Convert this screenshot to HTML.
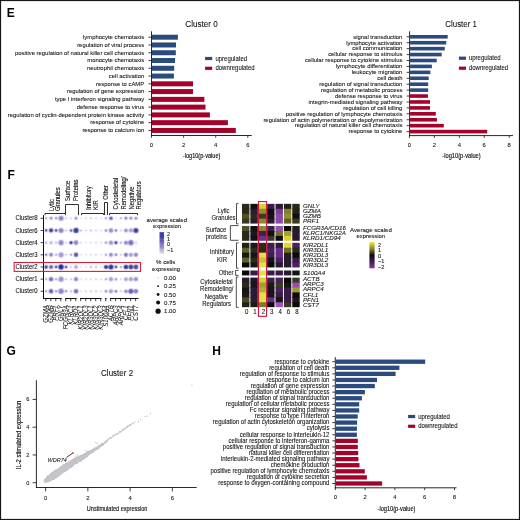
<!DOCTYPE html>
<html><head><meta charset="utf-8"><style>
html,body{margin:0;padding:0;background:#fff;}
svg{display:block;}
#w{width:520px;height:520px;overflow:hidden;will-change:transform;}
text{font-family:"Liberation Sans",sans-serif;}
</style></head><body>
<div id="w"><svg width="520" height="520" viewBox="0 0 520 520">
<g>
<rect x="0" y="0" width="520" height="520" fill="#fff"/>
<text transform="translate(6.70,17.00)" font-size="12" font-weight="bold" fill="#000">E</text>
<text transform="translate(7.40,179.00)" font-size="12" font-weight="bold" fill="#000">F</text>
<text transform="translate(6.50,355.30)" font-size="12" font-weight="bold" fill="#000">G</text>
<text transform="translate(212.30,355.10)" font-size="12" font-weight="bold" fill="#000">H</text>
<line x1="151.50" y1="31.30" x2="151.50" y2="135.90" stroke="#111" stroke-width="0.9"/>
<line x1="151.10" y1="135.50" x2="251.70" y2="135.50" stroke="#111" stroke-width="0.9"/>
<line x1="151.50" y1="135.50" x2="151.50" y2="137.80" stroke="#111" stroke-width="0.8"/>
<text transform="translate(151.50,147.20) scale(0.9433962264150942,1)" font-size="6.254" text-anchor="middle" fill="#111" stroke="#111" stroke-width="0.08">0</text>
<line x1="183.60" y1="135.50" x2="183.60" y2="137.80" stroke="#111" stroke-width="0.8"/>
<text transform="translate(183.60,147.20) scale(0.9433962264150942,1)" font-size="6.254" text-anchor="middle" fill="#111" stroke="#111" stroke-width="0.08">2</text>
<line x1="215.70" y1="135.50" x2="215.70" y2="137.80" stroke="#111" stroke-width="0.8"/>
<text transform="translate(215.70,147.20) scale(0.9433962264150942,1)" font-size="6.254" text-anchor="middle" fill="#111" stroke="#111" stroke-width="0.08">4</text>
<line x1="247.80" y1="135.50" x2="247.80" y2="137.80" stroke="#111" stroke-width="0.8"/>
<text transform="translate(247.80,147.20) scale(0.9433962264150942,1)" font-size="6.254" text-anchor="middle" fill="#111" stroke="#111" stroke-width="0.08">6</text>
<rect x="151.95" y="34.70" width="25.95" height="5.00" fill="#2b4a7e"/>
<line x1="148.50" y1="37.20" x2="151.50" y2="37.20" stroke="#111" stroke-width="0.8"/>
<text transform="translate(144.20,39.00) scale(0.9433962264150942,1)" font-size="6.254" text-anchor="end" fill="#111" stroke="#111" stroke-width="0.08">lymphocyte chemotaxis</text>
<rect x="151.95" y="42.47" width="24.05" height="5.00" fill="#2b4a7e"/>
<line x1="148.50" y1="44.97" x2="151.50" y2="44.97" stroke="#111" stroke-width="0.8"/>
<text transform="translate(144.20,46.77) scale(0.9433962264150942,1)" font-size="6.254" text-anchor="end" fill="#111" stroke="#111" stroke-width="0.08">regulation of viral process</text>
<rect x="151.95" y="50.24" width="23.85" height="5.00" fill="#2b4a7e"/>
<line x1="148.50" y1="52.74" x2="151.50" y2="52.74" stroke="#111" stroke-width="0.8"/>
<text transform="translate(144.20,54.54) scale(0.9433962264150942,1)" font-size="6.254" text-anchor="end" fill="#111" stroke="#111" stroke-width="0.08">positive regulation of natural killer cell chemotaxis</text>
<rect x="151.95" y="58.01" width="23.05" height="5.00" fill="#2b4a7e"/>
<line x1="148.50" y1="60.51" x2="151.50" y2="60.51" stroke="#111" stroke-width="0.8"/>
<text transform="translate(144.20,62.31) scale(0.9433962264150942,1)" font-size="6.254" text-anchor="end" fill="#111" stroke="#111" stroke-width="0.08">monocyte chemotaxis</text>
<rect x="151.95" y="65.78" width="22.25" height="5.00" fill="#2b4a7e"/>
<line x1="148.50" y1="68.28" x2="151.50" y2="68.28" stroke="#111" stroke-width="0.8"/>
<text transform="translate(144.20,70.08) scale(0.9433962264150942,1)" font-size="6.254" text-anchor="end" fill="#111" stroke="#111" stroke-width="0.08">neutrophil chemotaxis</text>
<rect x="151.95" y="73.55" width="21.95" height="5.00" fill="#2b4a7e"/>
<line x1="148.50" y1="76.05" x2="151.50" y2="76.05" stroke="#111" stroke-width="0.8"/>
<text transform="translate(144.20,77.85) scale(0.9433962264150942,1)" font-size="6.254" text-anchor="end" fill="#111" stroke="#111" stroke-width="0.08">cell activation</text>
<rect x="151.95" y="81.32" width="41.05" height="5.00" fill="#a3022b"/>
<line x1="148.50" y1="83.82" x2="151.50" y2="83.82" stroke="#111" stroke-width="0.8"/>
<text transform="translate(144.20,85.62) scale(0.9433962264150942,1)" font-size="6.254" text-anchor="end" fill="#111" stroke="#111" stroke-width="0.08">response to cAMP</text>
<rect x="151.95" y="89.09" width="41.05" height="5.00" fill="#a3022b"/>
<line x1="148.50" y1="91.59" x2="151.50" y2="91.59" stroke="#111" stroke-width="0.8"/>
<text transform="translate(144.20,93.39) scale(0.9433962264150942,1)" font-size="6.254" text-anchor="end" fill="#111" stroke="#111" stroke-width="0.08">regulation of gene expression</text>
<rect x="151.95" y="96.86" width="52.45" height="5.00" fill="#a3022b"/>
<line x1="148.50" y1="99.36" x2="151.50" y2="99.36" stroke="#111" stroke-width="0.8"/>
<text transform="translate(144.20,101.16) scale(0.9433962264150942,1)" font-size="6.254" text-anchor="end" fill="#111" stroke="#111" stroke-width="0.08">type I interferon signaling pathway</text>
<rect x="151.95" y="104.63" width="53.55" height="5.00" fill="#a3022b"/>
<line x1="148.50" y1="107.13" x2="151.50" y2="107.13" stroke="#111" stroke-width="0.8"/>
<text transform="translate(144.20,108.93) scale(0.9433962264150942,1)" font-size="6.254" text-anchor="end" fill="#111" stroke="#111" stroke-width="0.08">defense response to virus</text>
<rect x="151.95" y="112.40" width="57.95" height="5.00" fill="#a3022b"/>
<line x1="148.50" y1="114.90" x2="151.50" y2="114.90" stroke="#111" stroke-width="0.8"/>
<text transform="translate(144.20,116.70) scale(0.9433962264150942,1)" font-size="6.254" text-anchor="end" fill="#111" stroke="#111" stroke-width="0.08">regulation of cyclin-dependent protein kinase activity</text>
<rect x="151.95" y="120.17" width="75.95" height="5.00" fill="#a3022b"/>
<line x1="148.50" y1="122.67" x2="151.50" y2="122.67" stroke="#111" stroke-width="0.8"/>
<text transform="translate(144.20,124.47) scale(0.9433962264150942,1)" font-size="6.254" text-anchor="end" fill="#111" stroke="#111" stroke-width="0.08">response of cytokine</text>
<rect x="151.95" y="127.94" width="83.85" height="5.00" fill="#a3022b"/>
<line x1="148.50" y1="130.44" x2="151.50" y2="130.44" stroke="#111" stroke-width="0.8"/>
<text transform="translate(144.20,132.24) scale(0.9433962264150942,1)" font-size="6.254" text-anchor="end" fill="#111" stroke="#111" stroke-width="0.08">response to calcium ion</text>
<text transform="translate(201.50,26.60)" font-size="9.2" text-anchor="middle" textLength="32.3" lengthAdjust="spacingAndGlyphs" fill="#111" stroke="#111" stroke-width="0.08">Cluster 0</text>
<text transform="translate(201.60,157.90)" font-size="6.6" text-anchor="middle" textLength="37.5" lengthAdjust="spacingAndGlyphs" fill="#111" stroke="#111" stroke-width="0.15">-log10(p-value)</text>
<rect x="205.10" y="56.90" width="7.10" height="3.20" fill="#2b4a7e"/>
<rect x="205.10" y="66.70" width="7.10" height="3.20" fill="#a3022b"/>
<text transform="translate(215.40,60.50) scale(0.9433962264150942,1)" font-size="6.36" fill="#111" stroke="#111" stroke-width="0.08">upregulated</text>
<text transform="translate(215.40,70.30) scale(0.9433962264150942,1)" font-size="6.36" fill="#111" stroke="#111" stroke-width="0.08">downregulated</text>
<line x1="409.60" y1="31.30" x2="409.60" y2="136.00" stroke="#111" stroke-width="0.9"/>
<line x1="409.20" y1="135.60" x2="513.00" y2="135.60" stroke="#111" stroke-width="0.9"/>
<line x1="409.40" y1="135.60" x2="409.40" y2="137.90" stroke="#111" stroke-width="0.8"/>
<text transform="translate(409.40,147.20) scale(0.9433962264150942,1)" font-size="6.254" text-anchor="middle" fill="#111" stroke="#111" stroke-width="0.08">0</text>
<line x1="434.35" y1="135.60" x2="434.35" y2="137.90" stroke="#111" stroke-width="0.8"/>
<text transform="translate(434.35,147.20) scale(0.9433962264150942,1)" font-size="6.254" text-anchor="middle" fill="#111" stroke="#111" stroke-width="0.08">2</text>
<line x1="459.30" y1="135.60" x2="459.30" y2="137.90" stroke="#111" stroke-width="0.8"/>
<text transform="translate(459.30,147.20) scale(0.9433962264150942,1)" font-size="6.254" text-anchor="middle" fill="#111" stroke="#111" stroke-width="0.08">4</text>
<line x1="484.25" y1="135.60" x2="484.25" y2="137.90" stroke="#111" stroke-width="0.8"/>
<text transform="translate(484.25,147.20) scale(0.9433962264150942,1)" font-size="6.254" text-anchor="middle" fill="#111" stroke="#111" stroke-width="0.08">6</text>
<line x1="509.20" y1="135.60" x2="509.20" y2="137.90" stroke="#111" stroke-width="0.8"/>
<text transform="translate(509.20,147.20) scale(0.9433962264150942,1)" font-size="6.254" text-anchor="middle" fill="#111" stroke="#111" stroke-width="0.08">8</text>
<rect x="410.05" y="35.00" width="37.65" height="3.60" fill="#2b4a7e"/>
<line x1="406.60" y1="36.80" x2="409.60" y2="36.80" stroke="#111" stroke-width="0.8"/>
<text transform="translate(402.40,38.60) scale(0.9433962264150942,1)" font-size="6.254" text-anchor="end" fill="#111" stroke="#111" stroke-width="0.08">signal transduction</text>
<rect x="410.05" y="40.92" width="36.15" height="3.60" fill="#2b4a7e"/>
<line x1="406.60" y1="42.72" x2="409.60" y2="42.72" stroke="#111" stroke-width="0.8"/>
<text transform="translate(402.40,44.52) scale(0.9433962264150942,1)" font-size="6.254" text-anchor="end" fill="#111" stroke="#111" stroke-width="0.08">lymphocyte activation</text>
<rect x="410.05" y="46.85" width="34.75" height="3.60" fill="#2b4a7e"/>
<line x1="406.60" y1="48.65" x2="409.60" y2="48.65" stroke="#111" stroke-width="0.8"/>
<text transform="translate(402.40,50.45) scale(0.9433962264150942,1)" font-size="6.254" text-anchor="end" fill="#111" stroke="#111" stroke-width="0.08">cell communication</text>
<rect x="410.05" y="52.77" width="31.65" height="3.60" fill="#2b4a7e"/>
<line x1="406.60" y1="54.57" x2="409.60" y2="54.57" stroke="#111" stroke-width="0.8"/>
<text transform="translate(402.40,56.37) scale(0.9433962264150942,1)" font-size="6.254" text-anchor="end" fill="#111" stroke="#111" stroke-width="0.08">cellular response to stimulus</text>
<rect x="410.05" y="58.70" width="26.65" height="3.60" fill="#2b4a7e"/>
<line x1="406.60" y1="60.50" x2="409.60" y2="60.50" stroke="#111" stroke-width="0.8"/>
<text transform="translate(402.40,62.30) scale(0.9433962264150942,1)" font-size="6.254" text-anchor="end" fill="#111" stroke="#111" stroke-width="0.08">cellular response to cytokine stimulus</text>
<rect x="410.05" y="64.62" width="21.85" height="3.60" fill="#2b4a7e"/>
<line x1="406.60" y1="66.42" x2="409.60" y2="66.42" stroke="#111" stroke-width="0.8"/>
<text transform="translate(402.40,68.22) scale(0.9433962264150942,1)" font-size="6.254" text-anchor="end" fill="#111" stroke="#111" stroke-width="0.08">lymphocyte differentiation</text>
<rect x="410.05" y="70.55" width="20.35" height="3.60" fill="#2b4a7e"/>
<line x1="406.60" y1="72.35" x2="409.60" y2="72.35" stroke="#111" stroke-width="0.8"/>
<text transform="translate(402.40,74.15) scale(0.9433962264150942,1)" font-size="6.254" text-anchor="end" fill="#111" stroke="#111" stroke-width="0.08">leukocyte migration</text>
<rect x="410.05" y="76.47" width="18.65" height="3.60" fill="#2b4a7e"/>
<line x1="406.60" y1="78.27" x2="409.60" y2="78.27" stroke="#111" stroke-width="0.8"/>
<text transform="translate(402.40,80.07) scale(0.9433962264150942,1)" font-size="6.254" text-anchor="end" fill="#111" stroke="#111" stroke-width="0.08">cell death</text>
<rect x="410.05" y="82.40" width="18.15" height="3.60" fill="#2b4a7e"/>
<line x1="406.60" y1="84.20" x2="409.60" y2="84.20" stroke="#111" stroke-width="0.8"/>
<text transform="translate(402.40,86.00) scale(0.9433962264150942,1)" font-size="6.254" text-anchor="end" fill="#111" stroke="#111" stroke-width="0.08">regulation of signal transduction</text>
<rect x="410.05" y="88.32" width="18.15" height="3.60" fill="#2b4a7e"/>
<line x1="406.60" y1="90.12" x2="409.60" y2="90.12" stroke="#111" stroke-width="0.8"/>
<text transform="translate(402.40,91.92) scale(0.9433962264150942,1)" font-size="6.254" text-anchor="end" fill="#111" stroke="#111" stroke-width="0.08">regulation of metabolic process</text>
<rect x="410.05" y="94.25" width="17.85" height="3.60" fill="#a3022b"/>
<line x1="406.60" y1="96.05" x2="409.60" y2="96.05" stroke="#111" stroke-width="0.8"/>
<text transform="translate(402.40,97.85) scale(0.9433962264150942,1)" font-size="6.254" text-anchor="end" fill="#111" stroke="#111" stroke-width="0.08">defense response to virus</text>
<rect x="410.05" y="100.17" width="19.95" height="3.60" fill="#a3022b"/>
<line x1="406.60" y1="101.97" x2="409.60" y2="101.97" stroke="#111" stroke-width="0.8"/>
<text transform="translate(402.40,103.77) scale(0.9433962264150942,1)" font-size="6.254" text-anchor="end" fill="#111" stroke="#111" stroke-width="0.08">integrin-mediated signaling pathway</text>
<rect x="410.05" y="106.10" width="19.95" height="3.60" fill="#a3022b"/>
<line x1="406.60" y1="107.90" x2="409.60" y2="107.90" stroke="#111" stroke-width="0.8"/>
<text transform="translate(402.40,109.70) scale(0.9433962264150942,1)" font-size="6.254" text-anchor="end" fill="#111" stroke="#111" stroke-width="0.08">regulation of cell killing</text>
<rect x="410.05" y="112.02" width="25.75" height="3.60" fill="#a3022b"/>
<line x1="406.60" y1="113.82" x2="409.60" y2="113.82" stroke="#111" stroke-width="0.8"/>
<text transform="translate(402.40,115.62) scale(0.9433962264150942,1)" font-size="6.254" text-anchor="end" fill="#111" stroke="#111" stroke-width="0.08">positive regulation of lymphocyte chemotaxis</text>
<rect x="410.05" y="117.95" width="26.85" height="3.60" fill="#a3022b"/>
<line x1="406.60" y1="119.75" x2="409.60" y2="119.75" stroke="#111" stroke-width="0.8"/>
<text transform="translate(402.40,121.55) scale(0.9433962264150942,1)" font-size="6.254" text-anchor="end" fill="#111" stroke="#111" stroke-width="0.08">regulation of actin polymerization or depolymerization</text>
<rect x="410.05" y="123.88" width="33.75" height="3.60" fill="#a3022b"/>
<line x1="406.60" y1="125.67" x2="409.60" y2="125.67" stroke="#111" stroke-width="0.8"/>
<text transform="translate(402.40,127.47) scale(0.9433962264150942,1)" font-size="6.254" text-anchor="end" fill="#111" stroke="#111" stroke-width="0.08">regulation of natural killer cell chemotaxis</text>
<rect x="410.05" y="129.80" width="77.15" height="3.60" fill="#a3022b"/>
<line x1="406.60" y1="131.60" x2="409.60" y2="131.60" stroke="#111" stroke-width="0.8"/>
<text transform="translate(402.40,133.40) scale(0.9433962264150942,1)" font-size="6.254" text-anchor="end" fill="#111" stroke="#111" stroke-width="0.08">response to cytokine</text>
<text transform="translate(461.10,26.60)" font-size="9.2" text-anchor="middle" textLength="31.5" lengthAdjust="spacingAndGlyphs" fill="#111" stroke="#111" stroke-width="0.08">Cluster 1</text>
<text transform="translate(461.50,158.20)" font-size="6.6" text-anchor="middle" textLength="38.4" lengthAdjust="spacingAndGlyphs" fill="#111" stroke="#111" stroke-width="0.15">-log10(p-value)</text>
<rect x="458.90" y="56.60" width="7.10" height="3.20" fill="#2b4a7e"/>
<rect x="458.90" y="66.60" width="7.10" height="3.20" fill="#a3022b"/>
<text transform="translate(468.90,60.20) scale(0.9433962264150942,1)" font-size="6.36" fill="#111" stroke="#111" stroke-width="0.08">upregulated</text>
<text transform="translate(468.90,70.20) scale(0.9433962264150942,1)" font-size="6.36" fill="#111" stroke="#111" stroke-width="0.08">downregulated</text>
<line x1="335.30" y1="357.10" x2="335.30" y2="488.20" stroke="#111" stroke-width="0.9"/>
<line x1="334.90" y1="487.80" x2="456.50" y2="487.80" stroke="#111" stroke-width="0.9"/>
<line x1="335.30" y1="487.80" x2="335.30" y2="490.10" stroke="#111" stroke-width="0.8"/>
<text transform="translate(335.30,499.20) scale(0.9433962264150942,1)" font-size="6.254" text-anchor="middle" fill="#111" stroke="#111" stroke-width="0.08">0</text>
<line x1="365.10" y1="487.80" x2="365.10" y2="490.10" stroke="#111" stroke-width="0.8"/>
<text transform="translate(365.10,499.20) scale(0.9433962264150942,1)" font-size="6.254" text-anchor="middle" fill="#111" stroke="#111" stroke-width="0.08">2</text>
<line x1="394.90" y1="487.80" x2="394.90" y2="490.10" stroke="#111" stroke-width="0.8"/>
<text transform="translate(394.90,499.20) scale(0.9433962264150942,1)" font-size="6.254" text-anchor="middle" fill="#111" stroke="#111" stroke-width="0.08">4</text>
<line x1="424.70" y1="487.80" x2="424.70" y2="490.10" stroke="#111" stroke-width="0.8"/>
<text transform="translate(424.70,499.20) scale(0.9433962264150942,1)" font-size="6.254" text-anchor="middle" fill="#111" stroke="#111" stroke-width="0.08">6</text>
<line x1="454.50" y1="487.80" x2="454.50" y2="490.10" stroke="#111" stroke-width="0.8"/>
<text transform="translate(454.50,499.20) scale(0.9433962264150942,1)" font-size="6.254" text-anchor="middle" fill="#111" stroke="#111" stroke-width="0.08">8</text>
<rect x="335.75" y="359.55" width="89.45" height="4.30" fill="#2b4a7e"/>
<line x1="332.30" y1="361.70" x2="335.30" y2="361.70" stroke="#111" stroke-width="0.8"/>
<text transform="translate(329.40,363.50) scale(0.9433962264150942,1)" font-size="6.36" text-anchor="end" fill="#111" stroke="#111" stroke-width="0.08">response to cytokine</text>
<rect x="335.75" y="365.64" width="63.65" height="4.30" fill="#2b4a7e"/>
<line x1="332.30" y1="367.79" x2="335.30" y2="367.79" stroke="#111" stroke-width="0.8"/>
<text transform="translate(329.40,369.59) scale(0.9433962264150942,1)" font-size="6.36" text-anchor="end" fill="#111" stroke="#111" stroke-width="0.08">regulation of cell death</text>
<rect x="335.75" y="371.73" width="59.85" height="4.30" fill="#2b4a7e"/>
<line x1="332.30" y1="373.88" x2="335.30" y2="373.88" stroke="#111" stroke-width="0.8"/>
<text transform="translate(329.40,375.68) scale(0.9433962264150942,1)" font-size="6.36" text-anchor="end" fill="#111" stroke="#111" stroke-width="0.08">regulation of response to stimulus</text>
<rect x="335.75" y="377.82" width="41.25" height="4.30" fill="#2b4a7e"/>
<line x1="332.30" y1="379.97" x2="335.30" y2="379.97" stroke="#111" stroke-width="0.8"/>
<text transform="translate(329.40,381.77) scale(0.9433962264150942,1)" font-size="6.36" text-anchor="end" fill="#111" stroke="#111" stroke-width="0.08">response to calcium ion</text>
<rect x="335.75" y="383.91" width="39.05" height="4.30" fill="#2b4a7e"/>
<line x1="332.30" y1="386.06" x2="335.30" y2="386.06" stroke="#111" stroke-width="0.8"/>
<text transform="translate(329.40,387.86) scale(0.9433962264150942,1)" font-size="6.36" text-anchor="end" fill="#111" stroke="#111" stroke-width="0.08">regulation of gene expression</text>
<rect x="335.75" y="390.00" width="29.15" height="4.30" fill="#2b4a7e"/>
<line x1="332.30" y1="392.15" x2="335.30" y2="392.15" stroke="#111" stroke-width="0.8"/>
<text transform="translate(329.40,393.95) scale(0.9433962264150942,1)" font-size="6.36" text-anchor="end" fill="#111" stroke="#111" stroke-width="0.08">regulation of metabolic process</text>
<rect x="335.75" y="396.09" width="26.15" height="4.30" fill="#2b4a7e"/>
<line x1="332.30" y1="398.24" x2="335.30" y2="398.24" stroke="#111" stroke-width="0.8"/>
<text transform="translate(329.40,400.04) scale(0.9433962264150942,1)" font-size="6.36" text-anchor="end" fill="#111" stroke="#111" stroke-width="0.08">regulation of signal transduction</text>
<rect x="335.75" y="402.18" width="23.45" height="4.30" fill="#2b4a7e"/>
<line x1="332.30" y1="404.33" x2="335.30" y2="404.33" stroke="#111" stroke-width="0.8"/>
<text transform="translate(329.40,406.13) scale(0.9433962264150942,1)" font-size="6.36" text-anchor="end" fill="#111" stroke="#111" stroke-width="0.08">regulation of cellular metabolic process</text>
<rect x="335.75" y="408.27" width="23.45" height="4.30" fill="#2b4a7e"/>
<line x1="332.30" y1="410.42" x2="335.30" y2="410.42" stroke="#111" stroke-width="0.8"/>
<text transform="translate(329.40,412.22) scale(0.9433962264150942,1)" font-size="6.36" text-anchor="end" fill="#111" stroke="#111" stroke-width="0.08">Fc receptor signaling pathway</text>
<rect x="335.75" y="414.36" width="21.95" height="4.30" fill="#2b4a7e"/>
<line x1="332.30" y1="416.51" x2="335.30" y2="416.51" stroke="#111" stroke-width="0.8"/>
<text transform="translate(329.40,418.31) scale(0.9433962264150942,1)" font-size="6.36" text-anchor="end" fill="#111" stroke="#111" stroke-width="0.08">response to type I interferon</text>
<rect x="335.75" y="420.45" width="21.35" height="4.30" fill="#2b4a7e"/>
<line x1="332.30" y1="422.60" x2="335.30" y2="422.60" stroke="#111" stroke-width="0.8"/>
<text transform="translate(329.40,424.40) scale(0.9433962264150942,1)" font-size="6.36" text-anchor="end" fill="#111" stroke="#111" stroke-width="0.08">regulation of actin cytoskeleton organization</text>
<rect x="335.75" y="426.54" width="21.15" height="4.30" fill="#2b4a7e"/>
<line x1="332.30" y1="428.69" x2="335.30" y2="428.69" stroke="#111" stroke-width="0.8"/>
<text transform="translate(329.40,430.49) scale(0.9433962264150942,1)" font-size="6.36" text-anchor="end" fill="#111" stroke="#111" stroke-width="0.08">cytolysis</text>
<rect x="335.75" y="432.63" width="21.15" height="4.30" fill="#2b4a7e"/>
<line x1="332.30" y1="434.78" x2="335.30" y2="434.78" stroke="#111" stroke-width="0.8"/>
<text transform="translate(329.40,436.58) scale(0.9433962264150942,1)" font-size="6.36" text-anchor="end" fill="#111" stroke="#111" stroke-width="0.08">cellular response to interleukin-12</text>
<rect x="335.75" y="438.72" width="22.05" height="4.30" fill="#a3022b"/>
<line x1="332.30" y1="440.87" x2="335.30" y2="440.87" stroke="#111" stroke-width="0.8"/>
<text transform="translate(329.40,442.67) scale(0.9433962264150942,1)" font-size="6.36" text-anchor="end" fill="#111" stroke="#111" stroke-width="0.08">cellular response to interferon-gamma</text>
<rect x="335.75" y="444.81" width="22.05" height="4.30" fill="#a3022b"/>
<line x1="332.30" y1="446.96" x2="335.30" y2="446.96" stroke="#111" stroke-width="0.8"/>
<text transform="translate(329.40,448.76) scale(0.9433962264150942,1)" font-size="6.36" text-anchor="end" fill="#111" stroke="#111" stroke-width="0.08">positive regulation of signal transduction</text>
<rect x="335.75" y="450.90" width="22.45" height="4.30" fill="#a3022b"/>
<line x1="332.30" y1="453.05" x2="335.30" y2="453.05" stroke="#111" stroke-width="0.8"/>
<text transform="translate(329.40,454.85) scale(0.9433962264150942,1)" font-size="6.36" text-anchor="end" fill="#111" stroke="#111" stroke-width="0.08">natural killer cell differentiation</text>
<rect x="335.75" y="456.99" width="22.65" height="4.30" fill="#a3022b"/>
<line x1="332.30" y1="459.14" x2="335.30" y2="459.14" stroke="#111" stroke-width="0.8"/>
<text transform="translate(329.40,460.94) scale(0.9433962264150942,1)" font-size="6.36" text-anchor="end" fill="#111" stroke="#111" stroke-width="0.08">interleukin-2-mediated signaling pathway</text>
<rect x="335.75" y="463.08" width="23.75" height="4.30" fill="#a3022b"/>
<line x1="332.30" y1="465.23" x2="335.30" y2="465.23" stroke="#111" stroke-width="0.8"/>
<text transform="translate(329.40,467.03) scale(0.9433962264150942,1)" font-size="6.36" text-anchor="end" fill="#111" stroke="#111" stroke-width="0.08">chemokine production</text>
<rect x="335.75" y="469.17" width="29.05" height="4.30" fill="#a3022b"/>
<line x1="332.30" y1="471.32" x2="335.30" y2="471.32" stroke="#111" stroke-width="0.8"/>
<text transform="translate(329.40,473.12) scale(0.9433962264150942,1)" font-size="6.36" text-anchor="end" fill="#111" stroke="#111" stroke-width="0.08">positive regulation of lymphocyte chemotaxis</text>
<rect x="335.75" y="475.26" width="31.15" height="4.30" fill="#a3022b"/>
<line x1="332.30" y1="477.41" x2="335.30" y2="477.41" stroke="#111" stroke-width="0.8"/>
<text transform="translate(329.40,479.21) scale(0.9433962264150942,1)" font-size="6.36" text-anchor="end" fill="#111" stroke="#111" stroke-width="0.08">regulation of cytokine secretion</text>
<rect x="335.75" y="481.35" width="46.35" height="4.30" fill="#a3022b"/>
<line x1="332.30" y1="483.50" x2="335.30" y2="483.50" stroke="#111" stroke-width="0.8"/>
<text transform="translate(329.40,485.30) scale(0.9433962264150942,1)" font-size="6.36" text-anchor="end" fill="#111" stroke="#111" stroke-width="0.08">response to oxygen-containing compound</text>
<text transform="translate(396.50,511.20)" font-size="6.6" text-anchor="middle" textLength="38" lengthAdjust="spacingAndGlyphs" fill="#111" stroke="#111" stroke-width="0.15">-log10(p-value)</text>
<rect x="408.10" y="414.90" width="7.10" height="3.20" fill="#2b4a7e"/>
<rect x="408.10" y="424.70" width="7.10" height="3.20" fill="#a3022b"/>
<text transform="translate(418.20,418.50) scale(0.9433962264150942,1)" font-size="6.36" fill="#111" stroke="#111" stroke-width="0.08">upregulated</text>
<text transform="translate(418.20,428.30) scale(0.9433962264150942,1)" font-size="6.36" fill="#111" stroke="#111" stroke-width="0.08">downregulated</text>
<line x1="36.40" y1="380.30" x2="36.40" y2="487.90" stroke="#111" stroke-width="0.9"/>
<line x1="36.00" y1="487.50" x2="196.70" y2="487.50" stroke="#111" stroke-width="0.9"/>
<line x1="32.60" y1="482.70" x2="36.40" y2="482.70" stroke="#111" stroke-width="0.8"/>
<text transform="translate(27.70,484.70) scale(0.9433962264150942,1)" font-size="5.936" text-anchor="middle" fill="#111" stroke="#111" stroke-width="0.08">0</text>
<line x1="32.60" y1="454.95" x2="36.40" y2="454.95" stroke="#111" stroke-width="0.8"/>
<text transform="translate(27.70,456.95) scale(0.9433962264150942,1)" font-size="5.936" text-anchor="middle" fill="#111" stroke="#111" stroke-width="0.08">2</text>
<line x1="32.60" y1="427.20" x2="36.40" y2="427.20" stroke="#111" stroke-width="0.8"/>
<text transform="translate(27.70,429.20) scale(0.9433962264150942,1)" font-size="5.936" text-anchor="middle" fill="#111" stroke="#111" stroke-width="0.08">4</text>
<line x1="32.60" y1="399.45" x2="36.40" y2="399.45" stroke="#111" stroke-width="0.8"/>
<text transform="translate(27.70,401.45) scale(0.9433962264150942,1)" font-size="5.936" text-anchor="middle" fill="#111" stroke="#111" stroke-width="0.08">6</text>
<line x1="45.60" y1="487.50" x2="45.60" y2="491.40" stroke="#111" stroke-width="0.8"/>
<text transform="translate(45.60,500.30) scale(0.9433962264150942,1)" font-size="6.254" text-anchor="middle" fill="#111" stroke="#111" stroke-width="0.08">0</text>
<line x1="87.85" y1="487.50" x2="87.85" y2="491.40" stroke="#111" stroke-width="0.8"/>
<text transform="translate(87.85,500.30) scale(0.9433962264150942,1)" font-size="6.254" text-anchor="middle" fill="#111" stroke="#111" stroke-width="0.08">2</text>
<line x1="130.10" y1="487.50" x2="130.10" y2="491.40" stroke="#111" stroke-width="0.8"/>
<text transform="translate(130.10,500.30) scale(0.9433962264150942,1)" font-size="6.254" text-anchor="middle" fill="#111" stroke="#111" stroke-width="0.08">4</text>
<line x1="172.35" y1="487.50" x2="172.35" y2="491.40" stroke="#111" stroke-width="0.8"/>
<text transform="translate(172.35,500.30) scale(0.9433962264150942,1)" font-size="6.254" text-anchor="middle" fill="#111" stroke="#111" stroke-width="0.08">6</text>
<text transform="translate(117.10,375.90)" font-size="9.2" text-anchor="middle" textLength="32.0" lengthAdjust="spacingAndGlyphs" fill="#111" stroke="#111" stroke-width="0.08">Cluster 2</text>
<text transform="translate(117.10,511.30)" font-size="7.3" text-anchor="middle" textLength="60.6" lengthAdjust="spacingAndGlyphs" fill="#111" stroke="#111" stroke-width="0.15">Unstimulated expression</text>
<text transform="translate(21.20,435.00) rotate(-90)" font-size="7.3" text-anchor="middle" textLength="68.5" lengthAdjust="spacingAndGlyphs" fill="#111" stroke="#111" stroke-width="0.15">IL-2 stimulated expression</text>
<polygon points="43.6,481.6 44.2,479.4 46.2,477.4 48.5,475.4 51.5,473.1 55.4,470.4 59.2,467.7 63.1,465.0 66.9,462.9 70.8,460.6 75.0,457.9 78.5,456.2 82.7,454.6 90.4,450.2 98.1,446.0 104.0,442.4 108.0,439.9 108.0,441.5 104.0,444.2 98.1,448.7 90.4,454.2 82.7,460.0 78.5,462.5 74.6,464.6 70.8,467.5 66.9,470.3 63.1,473.0 59.2,476.0 55.4,478.4 51.5,480.4 47.7,482.2 44.8,483.0" fill="#c6c4ca" stroke="#c6c4ca" stroke-width="0.2" stroke-linejoin="round"/>
<circle cx="135.1" cy="422.2" r="0.65" fill="#c0bec6"/>
<circle cx="138.5" cy="421.5" r="0.65" fill="#c0bec6"/>
<circle cx="140.5" cy="419.5" r="0.65" fill="#c0bec6"/>
<circle cx="145.2" cy="416.4" r="0.65" fill="#c0bec6"/>
<circle cx="147.2" cy="416.2" r="0.65" fill="#c0bec6"/>
<circle cx="150.3" cy="413.5" r="0.65" fill="#c0bec6"/>
<circle cx="95.8" cy="442.3" r="0.65" fill="#c0bec6"/>
<circle cx="97.3" cy="443.5" r="0.65" fill="#c0bec6"/>
<circle cx="101.5" cy="443.5" r="0.65" fill="#c0bec6"/>
<circle cx="85.0" cy="450.8" r="0.65" fill="#c0bec6"/>
<circle cx="87.3" cy="451.2" r="0.65" fill="#c0bec6"/>
<circle cx="77.3" cy="455.0" r="0.65" fill="#c0bec6"/>
<circle cx="75.4" cy="456.2" r="0.65" fill="#c0bec6"/>
<circle cx="191.9" cy="385.2" r="0.65" fill="#c0bec6"/>
<circle cx="128.0" cy="426.0" r="0.65" fill="#c0bec6"/>
<circle cx="123.0" cy="429.5" r="0.65" fill="#c0bec6"/>
<circle cx="64.1" cy="464.7" r="0.65" fill="#c0bec6"/>
<circle cx="47.0" cy="476.9" r="0.65" fill="#c0bec6"/>
<circle cx="47.6" cy="476.0" r="0.65" fill="#c0bec6"/>
<circle cx="70.9" cy="460.6" r="0.65" fill="#c0bec6"/>
<circle cx="78.2" cy="457.0" r="0.65" fill="#c0bec6"/>
<circle cx="51.7" cy="473.4" r="0.65" fill="#c0bec6"/>
<circle cx="80.1" cy="456.0" r="0.65" fill="#c0bec6"/>
<circle cx="68.6" cy="461.7" r="0.65" fill="#c0bec6"/>
<circle cx="97.2" cy="449.1" r="0.65" fill="#c0bec6"/>
<circle cx="77.5" cy="462.7" r="0.65" fill="#c0bec6"/>
<circle cx="86.3" cy="452.9" r="0.65" fill="#c0bec6"/>
<circle cx="83.6" cy="459.4" r="0.65" fill="#c0bec6"/>
<circle cx="88.2" cy="451.9" r="0.65" fill="#c0bec6"/>
<circle cx="74.8" cy="463.9" r="0.65" fill="#c0bec6"/>
<circle cx="72.9" cy="465.8" r="0.65" fill="#c0bec6"/>
<circle cx="59.4" cy="468.1" r="0.65" fill="#c0bec6"/>
<circle cx="59.1" cy="475.7" r="0.65" fill="#c0bec6"/>
<circle cx="98.3" cy="448.5" r="0.65" fill="#c0bec6"/>
<circle cx="104.8" cy="442.2" r="0.65" fill="#c0bec6"/>
<circle cx="54.2" cy="479.0" r="0.65" fill="#c0bec6"/>
<circle cx="74.3" cy="459.1" r="0.65" fill="#c0bec6"/>
<circle cx="48.8" cy="481.5" r="0.65" fill="#c0bec6"/>
<circle cx="65.7" cy="470.8" r="0.65" fill="#c0bec6"/>
<circle cx="72.3" cy="460.4" r="0.65" fill="#c0bec6"/>
<circle cx="73.4" cy="458.8" r="0.65" fill="#c0bec6"/>
<circle cx="87.5" cy="456.3" r="0.65" fill="#c0bec6"/>
<circle cx="67.9" cy="469.7" r="0.65" fill="#c0bec6"/>
<circle cx="72.6" cy="459.8" r="0.65" fill="#c0bec6"/>
<circle cx="74.6" cy="458.7" r="0.65" fill="#c0bec6"/>
<circle cx="52.0" cy="472.9" r="0.65" fill="#c0bec6"/>
<circle cx="100.8" cy="446.7" r="0.65" fill="#c0bec6"/>
<circle cx="71.8" cy="466.0" r="0.65" fill="#c0bec6"/>
<circle cx="94.8" cy="450.6" r="0.65" fill="#c0bec6"/>
<circle cx="105.2" cy="442.7" r="0.65" fill="#c0bec6"/>
<circle cx="53.4" cy="471.8" r="0.65" fill="#c0bec6"/>
<circle cx="84.8" cy="453.7" r="0.65" fill="#c0bec6"/>
<circle cx="80.5" cy="461.2" r="0.65" fill="#c0bec6"/>
<circle cx="53.0" cy="479.2" r="0.65" fill="#c0bec6"/>
<circle cx="63.8" cy="465.1" r="0.65" fill="#c0bec6"/>
<circle cx="76.0" cy="457.7" r="0.65" fill="#c0bec6"/>
<circle cx="98.0" cy="448.6" r="0.65" fill="#c0bec6"/>
<circle cx="68.4" cy="468.8" r="0.65" fill="#c0bec6"/>
<circle cx="47.9" cy="476.7" r="0.65" fill="#c0bec6"/>
<circle cx="71.3" cy="460.4" r="0.65" fill="#c0bec6"/>
<circle cx="47.3" cy="476.8" r="0.65" fill="#c0bec6"/>
<circle cx="77.3" cy="462.7" r="0.65" fill="#c0bec6"/>
<circle cx="48.4" cy="475.9" r="0.65" fill="#c0bec6"/>
<circle cx="53.2" cy="478.8" r="0.65" fill="#c0bec6"/>
<circle cx="81.3" cy="460.9" r="0.65" fill="#c0bec6"/>
<circle cx="96.6" cy="449.5" r="0.65" fill="#c0bec6"/>
<circle cx="63.3" cy="464.8" r="0.65" fill="#c0bec6"/>
<circle cx="65.2" cy="471.2" r="0.65" fill="#c0bec6"/>
<circle cx="86.9" cy="452.2" r="0.65" fill="#c0bec6"/>
<circle cx="103.0" cy="445.0" r="0.65" fill="#c0bec6"/>
<circle cx="77.7" cy="457.2" r="0.65" fill="#c0bec6"/>
<circle cx="62.5" cy="465.9" r="0.65" fill="#c0bec6"/>
<circle cx="60.2" cy="474.5" r="0.65" fill="#c0bec6"/>
<circle cx="66.1" cy="463.7" r="0.65" fill="#c0bec6"/>
<circle cx="92.3" cy="452.4" r="0.65" fill="#c0bec6"/>
<circle cx="82.0" cy="455.5" r="0.65" fill="#c0bec6"/>
<circle cx="94.7" cy="447.8" r="0.65" fill="#c0bec6"/>
<circle cx="74.6" cy="459.0" r="0.65" fill="#c0bec6"/>
<circle cx="93.0" cy="452.3" r="0.65" fill="#c0bec6"/>
<circle cx="86.9" cy="456.6" r="0.65" fill="#c0bec6"/>
<circle cx="102.1" cy="444.9" r="0.65" fill="#c0bec6"/>
<circle cx="66.6" cy="463.0" r="0.65" fill="#c0bec6"/>
<circle cx="73.1" cy="465.7" r="0.65" fill="#c0bec6"/>
<circle cx="82.7" cy="454.9" r="0.65" fill="#c0bec6"/>
<circle cx="84.5" cy="454.2" r="0.65" fill="#c0bec6"/>
<circle cx="51.4" cy="479.8" r="0.65" fill="#c0bec6"/>
<circle cx="90.5" cy="453.4" r="0.65" fill="#c0bec6"/>
<circle cx="70.9" cy="467.5" r="0.65" fill="#c0bec6"/>
<circle cx="102.7" cy="445.0" r="0.65" fill="#c0bec6"/>
<circle cx="90.1" cy="450.9" r="0.65" fill="#c0bec6"/>
<circle cx="54.5" cy="470.8" r="0.65" fill="#c0bec6"/>
<circle cx="80.6" cy="460.6" r="0.65" fill="#c0bec6"/>
<circle cx="53.1" cy="479.1" r="0.65" fill="#c0bec6"/>
<circle cx="65.7" cy="463.4" r="0.65" fill="#c0bec6"/>
<circle cx="93.6" cy="448.8" r="0.65" fill="#c0bec6"/>
<circle cx="101.9" cy="445.0" r="0.65" fill="#c0bec6"/>
<circle cx="56.1" cy="469.7" r="0.65" fill="#c0bec6"/>
<circle cx="57.2" cy="469.7" r="0.65" fill="#c0bec6"/>
<circle cx="64.2" cy="471.6" r="0.65" fill="#c0bec6"/>
<circle cx="47.8" cy="481.5" r="0.65" fill="#c0bec6"/>
<circle cx="85.1" cy="457.6" r="0.65" fill="#c0bec6"/>
<circle cx="98.4" cy="446.1" r="0.65" fill="#c0bec6"/>
<circle cx="76.5" cy="457.9" r="0.65" fill="#c0bec6"/>
<circle cx="92.1" cy="449.8" r="0.65" fill="#c0bec6"/>
<circle cx="53.3" cy="472.1" r="0.65" fill="#c0bec6"/>
<circle cx="89.0" cy="451.1" r="0.65" fill="#c0bec6"/>
<circle cx="76.1" cy="463.2" r="0.65" fill="#c0bec6"/>
<circle cx="50.6" cy="473.9" r="0.65" fill="#c0bec6"/>
<circle cx="61.2" cy="466.6" r="0.65" fill="#c0bec6"/>
<circle cx="78.8" cy="456.3" r="0.65" fill="#c0bec6"/>
<circle cx="82.0" cy="455.4" r="0.65" fill="#c0bec6"/>
<circle cx="72.0" cy="466.2" r="0.65" fill="#c0bec6"/>
<circle cx="59.4" cy="475.2" r="0.65" fill="#c0bec6"/>
<circle cx="99.4" cy="445.9" r="0.65" fill="#c0bec6"/>
<circle cx="52.5" cy="472.6" r="0.65" fill="#c0bec6"/>
<circle cx="63.6" cy="465.0" r="0.65" fill="#c0bec6"/>
<circle cx="57.2" cy="476.7" r="0.65" fill="#c0bec6"/>
<circle cx="99.6" cy="445.8" r="0.65" fill="#c0bec6"/>
<circle cx="83.9" cy="459.2" r="0.65" fill="#c0bec6"/>
<circle cx="98.7" cy="448.2" r="0.65" fill="#c0bec6"/>
<circle cx="103.1" cy="444.2" r="0.65" fill="#c0bec6"/>
<circle cx="54.1" cy="471.3" r="0.65" fill="#c0bec6"/>
<circle cx="70.8" cy="467.4" r="0.65" fill="#c0bec6"/>
<circle cx="56.1" cy="478.0" r="0.65" fill="#c0bec6"/>
<circle cx="66.7" cy="470.1" r="0.65" fill="#c0bec6"/>
<circle cx="71.3" cy="460.5" r="0.65" fill="#c0bec6"/>
<circle cx="76.1" cy="463.5" r="0.65" fill="#c0bec6"/>
<circle cx="48.0" cy="476.6" r="0.65" fill="#c0bec6"/>
<circle cx="50.5" cy="480.8" r="0.65" fill="#c0bec6"/>
<circle cx="100.2" cy="444.8" r="0.65" fill="#c0bec6"/>
<circle cx="52.0" cy="479.5" r="0.65" fill="#c0bec6"/>
<circle cx="85.9" cy="457.4" r="0.65" fill="#c0bec6"/>
<circle cx="77.3" cy="462.7" r="0.65" fill="#c0bec6"/>
<circle cx="49.5" cy="475.2" r="0.65" fill="#c0bec6"/>
<circle cx="55.4" cy="470.5" r="0.65" fill="#c0bec6"/>
<circle cx="45.0" cy="479.2" r="0.65" fill="#c0bec6"/>
<circle cx="106.0" cy="440.9" r="0.65" fill="#c0bec6"/>
<circle cx="106.7" cy="441.1" r="0.65" fill="#c0bec6"/>
<circle cx="107.3" cy="440.1" r="0.65" fill="#c0bec6"/>
<circle cx="108.0" cy="439.3" r="0.65" fill="#c0bec6"/>
<circle cx="108.7" cy="439.4" r="0.65" fill="#c0bec6"/>
<circle cx="109.5" cy="438.2" r="0.65" fill="#c0bec6"/>
<circle cx="110.1" cy="437.9" r="0.65" fill="#c0bec6"/>
<circle cx="110.9" cy="438.0" r="0.65" fill="#c0bec6"/>
<circle cx="111.3" cy="438.1" r="0.65" fill="#c0bec6"/>
<circle cx="112.2" cy="437.1" r="0.65" fill="#c0bec6"/>
<circle cx="113.0" cy="436.0" r="0.65" fill="#c0bec6"/>
<circle cx="113.3" cy="436.3" r="0.65" fill="#c0bec6"/>
<circle cx="113.6" cy="435.6" r="0.65" fill="#c0bec6"/>
<circle cx="114.1" cy="435.1" r="0.65" fill="#c0bec6"/>
<circle cx="114.7" cy="435.2" r="0.65" fill="#c0bec6"/>
<circle cx="115.6" cy="434.7" r="0.65" fill="#c0bec6"/>
<circle cx="116.3" cy="434.2" r="0.65" fill="#c0bec6"/>
<circle cx="117.1" cy="433.7" r="0.65" fill="#c0bec6"/>
<circle cx="117.6" cy="434.0" r="0.65" fill="#c0bec6"/>
<circle cx="118.6" cy="433.2" r="0.65" fill="#c0bec6"/>
<circle cx="119.4" cy="432.0" r="0.65" fill="#c0bec6"/>
<circle cx="119.9" cy="431.7" r="0.65" fill="#c0bec6"/>
<circle cx="120.2" cy="432.0" r="0.65" fill="#c0bec6"/>
<circle cx="120.8" cy="431.7" r="0.65" fill="#c0bec6"/>
<circle cx="121.4" cy="431.5" r="0.65" fill="#c0bec6"/>
<circle cx="122.2" cy="429.8" r="0.65" fill="#c0bec6"/>
<circle cx="122.7" cy="430.6" r="0.65" fill="#c0bec6"/>
<circle cx="123.3" cy="430.2" r="0.65" fill="#c0bec6"/>
<circle cx="123.9" cy="428.8" r="0.65" fill="#c0bec6"/>
<circle cx="124.6" cy="429.1" r="0.65" fill="#c0bec6"/>
<circle cx="125.1" cy="428.0" r="0.65" fill="#c0bec6"/>
<circle cx="125.7" cy="428.7" r="0.65" fill="#c0bec6"/>
<circle cx="126.5" cy="427.1" r="0.65" fill="#c0bec6"/>
<circle cx="127.0" cy="426.8" r="0.65" fill="#c0bec6"/>
<circle cx="127.3" cy="427.4" r="0.65" fill="#c0bec6"/>
<circle cx="127.7" cy="426.8" r="0.65" fill="#c0bec6"/>
<circle cx="128.3" cy="426.0" r="0.65" fill="#c0bec6"/>
<circle cx="129.2" cy="425.4" r="0.65" fill="#c0bec6"/>
<circle cx="129.9" cy="424.9" r="0.65" fill="#c0bec6"/>
<circle cx="130.5" cy="424.6" r="0.65" fill="#c0bec6"/>
<circle cx="131.0" cy="425.2" r="0.65" fill="#c0bec6"/>
<circle cx="131.9" cy="423.8" r="0.65" fill="#c0bec6"/>
<circle cx="132.8" cy="423.1" r="0.65" fill="#c0bec6"/>
<circle cx="133.3" cy="423.5" r="0.65" fill="#c0bec6"/>
<line x1="66.40" y1="457.40" x2="72.00" y2="453.60" stroke="#111" stroke-width="0.8"/>
<circle cx="72.8" cy="453.1" r="0.9" fill="#c0102a"/>
<text transform="translate(57.20,461.60)" font-size="5.5" text-anchor="middle" font-style="italic" fill="#111" stroke="#111" stroke-width="0.04">WDR74</text>
<filter id="db" x="0" y="0" width="520" height="520" filterUnits="userSpaceOnUse"><feConvolveMatrix order="3" kernelMatrix="0.05 0.1 0.05 0.1 0.4 0.1 0.05 0.1 0.05" edgeMode="none" preserveAlpha="false"/></filter>
<text transform="translate(37.60,220.40) scale(0.95,1)" font-size="6.3" text-anchor="end" fill="#111" stroke="#111" stroke-width="0.08">Cluster8</text>
<line x1="40.60" y1="218.30" x2="43.50" y2="218.30" stroke="#111" stroke-width="0.8"/>
<text transform="translate(37.60,232.57) scale(0.95,1)" font-size="6.3" text-anchor="end" fill="#111" stroke="#111" stroke-width="0.08">Cluster6</text>
<line x1="40.60" y1="230.47" x2="43.50" y2="230.47" stroke="#111" stroke-width="0.8"/>
<text transform="translate(37.60,244.74) scale(0.95,1)" font-size="6.3" text-anchor="end" fill="#111" stroke="#111" stroke-width="0.08">Cluster4</text>
<line x1="40.60" y1="242.64" x2="43.50" y2="242.64" stroke="#111" stroke-width="0.8"/>
<text transform="translate(37.60,256.91) scale(0.95,1)" font-size="6.3" text-anchor="end" fill="#111" stroke="#111" stroke-width="0.08">Cluster3</text>
<line x1="40.60" y1="254.81" x2="43.50" y2="254.81" stroke="#111" stroke-width="0.8"/>
<text transform="translate(37.60,269.08) scale(0.95,1)" font-size="6.3" text-anchor="end" fill="#111" stroke="#111" stroke-width="0.08">Cluster2</text>
<line x1="40.60" y1="266.98" x2="43.50" y2="266.98" stroke="#111" stroke-width="0.8"/>
<text transform="translate(37.60,281.25) scale(0.95,1)" font-size="6.3" text-anchor="end" fill="#111" stroke="#111" stroke-width="0.08">Cluster1</text>
<line x1="40.60" y1="279.15" x2="43.50" y2="279.15" stroke="#111" stroke-width="0.8"/>
<text transform="translate(37.60,293.42) scale(0.95,1)" font-size="6.3" text-anchor="end" fill="#111" stroke="#111" stroke-width="0.08">Cluster0</text>
<line x1="40.60" y1="291.32" x2="43.50" y2="291.32" stroke="#111" stroke-width="0.8"/>
<g filter="url(#db)"><circle cx="46.10" cy="218.30" r="1.05" fill="#8878c8"/><circle cx="51.09" cy="218.30" r="1.47" fill="#8f80c8"/><circle cx="56.08" cy="218.30" r="1.05" fill="#5a4ab0"/><circle cx="61.07" cy="218.30" r="2.52" fill="#9080c8"/><circle cx="66.06" cy="218.30" r="0.73" fill="#8878c8"/><circle cx="71.05" cy="218.30" r="0.73" fill="#9888d0"/><circle cx="76.04" cy="218.30" r="1.47" fill="#9888d0"/><circle cx="81.03" cy="218.30" r="0.73" fill="#c8c0e8"/><circle cx="86.02" cy="218.30" r="0.73" fill="#a098d8"/><circle cx="91.01" cy="218.30" r="0.73" fill="#8070c0"/><circle cx="96.00" cy="218.30" r="0.73" fill="#a098d8"/><circle cx="100.99" cy="218.30" r="0.73" fill="#c0b8e0"/><circle cx="105.98" cy="218.30" r="0.95" fill="#7868c0"/><circle cx="110.97" cy="218.30" r="1.78" fill="#5a4ab0"/><circle cx="115.96" cy="218.30" r="0.73" fill="#c0b8e0"/><circle cx="120.95" cy="218.30" r="0.73" fill="#3a3098"/><circle cx="125.94" cy="218.30" r="1.47" fill="#8070c0"/><circle cx="130.93" cy="218.30" r="1.47" fill="#8878c8"/><circle cx="135.92" cy="218.30" r="1.37" fill="#8070c0"/><circle cx="46.10" cy="230.47" r="1.37" fill="#4a40a0"/><circle cx="51.09" cy="230.47" r="2.10" fill="#3a3598"/><circle cx="56.08" cy="230.47" r="1.47" fill="#4a40a0"/><circle cx="61.07" cy="230.47" r="2.52" fill="#9080c8"/><circle cx="66.06" cy="230.47" r="0.73" fill="#8070c0"/><circle cx="71.05" cy="230.47" r="1.26" fill="#3a3598"/><circle cx="76.04" cy="230.47" r="2.62" fill="#3040a0"/><circle cx="81.03" cy="230.47" r="0.73" fill="#5050b0"/><circle cx="86.02" cy="230.47" r="0.73" fill="#a098d8"/><circle cx="91.01" cy="230.47" r="0.73" fill="#6a5ab8"/><circle cx="96.00" cy="230.47" r="0.73" fill="#a098d8"/><circle cx="100.99" cy="230.47" r="0.73" fill="#c0b8e0"/><circle cx="105.98" cy="230.47" r="1.26" fill="#8070c0"/><circle cx="110.97" cy="230.47" r="2.31" fill="#9888d0"/><circle cx="115.96" cy="230.47" r="1.26" fill="#7060b8"/><circle cx="120.95" cy="230.47" r="0.73" fill="#9080c8"/><circle cx="125.94" cy="230.47" r="1.89" fill="#9888d0"/><circle cx="130.93" cy="230.47" r="2.10" fill="#a898d8"/><circle cx="135.92" cy="230.47" r="2.52" fill="#3a3598"/><circle cx="46.10" cy="242.64" r="1.05" fill="#9888d0"/><circle cx="51.09" cy="242.64" r="1.89" fill="#c8c0e0"/><circle cx="56.08" cy="242.64" r="1.05" fill="#b0a8d8"/><circle cx="61.07" cy="242.64" r="2.62" fill="#9888d0"/><circle cx="66.06" cy="242.64" r="0.73" fill="#9888d0"/><circle cx="71.05" cy="242.64" r="1.68" fill="#2a2890"/><circle cx="76.04" cy="242.64" r="2.31" fill="#9080c8"/><circle cx="81.03" cy="242.64" r="0.73" fill="#b0a8d8"/><circle cx="86.02" cy="242.64" r="0.73" fill="#c0b8e0"/><circle cx="91.01" cy="242.64" r="0.73" fill="#a098d8"/><circle cx="96.00" cy="242.64" r="0.73" fill="#9888d0"/><circle cx="100.99" cy="242.64" r="0.73" fill="#b0a8d8"/><circle cx="105.98" cy="242.64" r="1.16" fill="#8070c0"/><circle cx="110.97" cy="242.64" r="2.21" fill="#a090d0"/><circle cx="115.96" cy="242.64" r="1.58" fill="#3a3598"/><circle cx="120.95" cy="242.64" r="0.84" fill="#7060b8"/><circle cx="125.94" cy="242.64" r="1.99" fill="#9080c8"/><circle cx="130.93" cy="242.64" r="2.62" fill="#8070c0"/><circle cx="135.92" cy="242.64" r="1.26" fill="#d0d0d4"/><circle cx="46.10" cy="254.81" r="1.26" fill="#7868c0"/><circle cx="51.09" cy="254.81" r="1.99" fill="#9080c8"/><circle cx="56.08" cy="254.81" r="1.05" fill="#8878c8"/><circle cx="61.07" cy="254.81" r="2.62" fill="#a898d8"/><circle cx="66.06" cy="254.81" r="0.73" fill="#8878c8"/><circle cx="71.05" cy="254.81" r="0.95" fill="#6a5ab8"/><circle cx="76.04" cy="254.81" r="2.21" fill="#5a50b0"/><circle cx="81.03" cy="254.81" r="0.73" fill="#c0b8e0"/><circle cx="86.02" cy="254.81" r="0.73" fill="#c8c0e8"/><circle cx="91.01" cy="254.81" r="0.73" fill="#c0b8e0"/><circle cx="96.00" cy="254.81" r="0.73" fill="#9888d0"/><circle cx="100.99" cy="254.81" r="0.73" fill="#c8c0e8"/><circle cx="105.98" cy="254.81" r="1.05" fill="#8070c0"/><circle cx="110.97" cy="254.81" r="1.99" fill="#9080c8"/><circle cx="115.96" cy="254.81" r="1.26" fill="#6a5ab8"/><circle cx="120.95" cy="254.81" r="0.73" fill="#8070c0"/><circle cx="125.94" cy="254.81" r="2.10" fill="#8070c0"/><circle cx="130.93" cy="254.81" r="2.10" fill="#a898d8"/><circle cx="135.92" cy="254.81" r="2.10" fill="#9080c8"/><circle cx="46.10" cy="266.98" r="1.68" fill="#2a2890"/><circle cx="51.09" cy="266.98" r="2.10" fill="#6a5ab8"/><circle cx="56.08" cy="266.98" r="1.37" fill="#3a3598"/><circle cx="61.07" cy="266.98" r="2.62" fill="#1a2890"/><circle cx="66.06" cy="266.98" r="1.26" fill="#2a2890"/><circle cx="71.05" cy="266.98" r="0.84" fill="#9888d0"/><circle cx="76.04" cy="266.98" r="1.89" fill="#b0a0d8"/><circle cx="81.03" cy="266.98" r="0.73" fill="#c0b8e0"/><circle cx="86.02" cy="266.98" r="0.73" fill="#b0a8d8"/><circle cx="91.01" cy="266.98" r="0.73" fill="#4a40a0"/><circle cx="96.00" cy="266.98" r="0.73" fill="#5a50b0"/><circle cx="100.99" cy="266.98" r="0.73" fill="#a098d8"/><circle cx="105.98" cy="266.98" r="2.10" fill="#2a3090"/><circle cx="110.97" cy="266.98" r="2.52" fill="#2a3598"/><circle cx="115.96" cy="266.98" r="1.37" fill="#3a3598"/><circle cx="120.95" cy="266.98" r="0.84" fill="#2a2890"/><circle cx="125.94" cy="266.98" r="2.31" fill="#2a3598"/><circle cx="130.93" cy="266.98" r="2.42" fill="#3a4098"/><circle cx="135.92" cy="266.98" r="2.42" fill="#4a4aa0"/><circle cx="46.10" cy="279.15" r="1.05" fill="#9888d0"/><circle cx="51.09" cy="279.15" r="2.21" fill="#7868c0"/><circle cx="56.08" cy="279.15" r="1.05" fill="#9080c8"/><circle cx="61.07" cy="279.15" r="2.62" fill="#a090d0"/><circle cx="66.06" cy="279.15" r="0.73" fill="#8070c0"/><circle cx="71.05" cy="279.15" r="0.73" fill="#8878c8"/><circle cx="76.04" cy="279.15" r="2.10" fill="#9080c8"/><circle cx="81.03" cy="279.15" r="0.73" fill="#c0b8e0"/><circle cx="86.02" cy="279.15" r="0.73" fill="#b0a8d8"/><circle cx="91.01" cy="279.15" r="0.73" fill="#a098d8"/><circle cx="96.00" cy="279.15" r="0.73" fill="#9888d0"/><circle cx="100.99" cy="279.15" r="0.73" fill="#b0a8d8"/><circle cx="105.98" cy="279.15" r="1.05" fill="#9080c8"/><circle cx="110.97" cy="279.15" r="2.10" fill="#a898d8"/><circle cx="115.96" cy="279.15" r="1.26" fill="#9080c8"/><circle cx="120.95" cy="279.15" r="0.73" fill="#a098d8"/><circle cx="125.94" cy="279.15" r="1.89" fill="#a898d8"/><circle cx="130.93" cy="279.15" r="2.10" fill="#a898d8"/><circle cx="135.92" cy="279.15" r="2.10" fill="#9888d0"/><circle cx="46.10" cy="291.32" r="1.16" fill="#8878c8"/><circle cx="51.09" cy="291.32" r="2.21" fill="#6a5ab8"/><circle cx="56.08" cy="291.32" r="1.16" fill="#7868c0"/><circle cx="61.07" cy="291.32" r="2.73" fill="#9080c8"/><circle cx="66.06" cy="291.32" r="1.05" fill="#5a50b0"/><circle cx="71.05" cy="291.32" r="0.84" fill="#7868c0"/><circle cx="76.04" cy="291.32" r="2.21" fill="#7868c0"/><circle cx="81.03" cy="291.32" r="0.73" fill="#c0b8e0"/><circle cx="86.02" cy="291.32" r="0.73" fill="#9888d0"/><circle cx="91.01" cy="291.32" r="0.73" fill="#8070c0"/><circle cx="96.00" cy="291.32" r="0.73" fill="#8070c0"/><circle cx="100.99" cy="291.32" r="0.73" fill="#b0a8d8"/><circle cx="105.98" cy="291.32" r="1.26" fill="#8878c8"/><circle cx="110.97" cy="291.32" r="2.10" fill="#a898d8"/><circle cx="115.96" cy="291.32" r="1.37" fill="#7868c0"/><circle cx="120.95" cy="291.32" r="0.73" fill="#8070c0"/><circle cx="125.94" cy="291.32" r="1.89" fill="#9888d0"/><circle cx="130.93" cy="291.32" r="2.52" fill="#6a5ab8"/><circle cx="135.92" cy="291.32" r="2.21" fill="#8878c8"/></g>
<line x1="43.50" y1="215.20" x2="43.50" y2="299.00" stroke="#111" stroke-width="1.0"/>
<line x1="43.10" y1="298.50" x2="61.67" y2="298.50" stroke="#111" stroke-width="1.0"/>
<line x1="45.80" y1="298.50" x2="45.80" y2="301.20" stroke="#111" stroke-width="0.8"/>
<line x1="50.79" y1="298.50" x2="50.79" y2="301.20" stroke="#111" stroke-width="0.8"/>
<line x1="55.78" y1="298.50" x2="55.78" y2="301.20" stroke="#111" stroke-width="0.8"/>
<line x1="60.77" y1="298.50" x2="60.77" y2="301.20" stroke="#111" stroke-width="0.8"/>
<line x1="65.06" y1="298.50" x2="76.64" y2="298.50" stroke="#111" stroke-width="1.0"/>
<line x1="65.76" y1="298.50" x2="65.76" y2="301.20" stroke="#111" stroke-width="0.8"/>
<line x1="70.75" y1="298.50" x2="70.75" y2="301.20" stroke="#111" stroke-width="0.8"/>
<line x1="75.74" y1="298.50" x2="75.74" y2="301.20" stroke="#111" stroke-width="0.8"/>
<line x1="80.03" y1="298.50" x2="101.59" y2="298.50" stroke="#111" stroke-width="1.0"/>
<line x1="80.73" y1="298.50" x2="80.73" y2="301.20" stroke="#111" stroke-width="0.8"/>
<line x1="85.72" y1="298.50" x2="85.72" y2="301.20" stroke="#111" stroke-width="0.8"/>
<line x1="90.71" y1="298.50" x2="90.71" y2="301.20" stroke="#111" stroke-width="0.8"/>
<line x1="95.70" y1="298.50" x2="95.70" y2="301.20" stroke="#111" stroke-width="0.8"/>
<line x1="100.69" y1="298.50" x2="100.69" y2="301.20" stroke="#111" stroke-width="0.8"/>
<line x1="104.98" y1="298.50" x2="106.58" y2="298.50" stroke="#111" stroke-width="1.0"/>
<line x1="105.68" y1="298.50" x2="105.68" y2="301.20" stroke="#111" stroke-width="0.8"/>
<line x1="109.97" y1="298.50" x2="138.52" y2="298.50" stroke="#111" stroke-width="1.0"/>
<line x1="110.67" y1="298.50" x2="110.67" y2="301.20" stroke="#111" stroke-width="0.8"/>
<line x1="115.66" y1="298.50" x2="115.66" y2="301.20" stroke="#111" stroke-width="0.8"/>
<line x1="120.65" y1="298.50" x2="120.65" y2="301.20" stroke="#111" stroke-width="0.8"/>
<line x1="125.64" y1="298.50" x2="125.64" y2="301.20" stroke="#111" stroke-width="0.8"/>
<line x1="130.63" y1="298.50" x2="130.63" y2="301.20" stroke="#111" stroke-width="0.8"/>
<line x1="135.62" y1="298.50" x2="135.62" y2="301.20" stroke="#111" stroke-width="0.8"/>
<path d="M45.0,215.2 V213.5 H65.5 V204.5 H78.5 V215.2 M65.5,213.5 V215.2 M81.5,215.2 V213.5 H103.5 V215 M104.5,215 V202.5 H107.5 V215 M109.5,215.2 V213.5 H137.5 V215.2" fill="none" stroke="#1a1a1a" stroke-width="0.9"/>
<text transform="translate(53.50,211.00) rotate(-90) scale(0.89,1)" font-size="6.6" fill="#111" stroke="#111" stroke-width="0.1">Lytic</text>
<text transform="translate(60.30,211.00) rotate(-90) scale(0.89,1)" font-size="6.6" fill="#111" stroke="#111" stroke-width="0.1">Granules</text>
<text transform="translate(69.50,201.00) rotate(-90) scale(0.89,1)" font-size="6.6" fill="#111" stroke="#111" stroke-width="0.1">Surface</text>
<text transform="translate(77.60,201.00) rotate(-90) scale(0.89,1)" font-size="6.6" fill="#111" stroke="#111" stroke-width="0.1">Proteins</text>
<text transform="translate(91.00,210.00) rotate(-90) scale(0.89,1)" font-size="6.6" fill="#111" stroke="#111" stroke-width="0.1">Inhibitory</text>
<text transform="translate(97.80,210.00) rotate(-90) scale(0.89,1)" font-size="6.6" fill="#111" stroke="#111" stroke-width="0.1">KIR</text>
<text transform="translate(107.80,199.80) rotate(-90) scale(0.89,1)" font-size="6.6" fill="#111" stroke="#111" stroke-width="0.1">Other</text>
<text transform="translate(118.30,209.60) rotate(-90) scale(0.89,1)" font-size="6.6" fill="#111" stroke="#111" stroke-width="0.1">Cytoskeletal</text>
<text transform="translate(126.00,209.60) rotate(-90) scale(0.89,1)" font-size="6.6" fill="#111" stroke="#111" stroke-width="0.1">Remodeling/</text>
<text transform="translate(133.70,209.60) rotate(-90) scale(0.89,1)" font-size="6.6" fill="#111" stroke="#111" stroke-width="0.1">Negative</text>
<text transform="translate(141.40,209.60) rotate(-90) scale(0.89,1)" font-size="6.6" fill="#111" stroke="#111" stroke-width="0.1">Regulators</text>
<text transform="translate(48.30,305.30) rotate(-90) scale(0.91,1)" font-size="6.6" text-anchor="end" font-style="italic" fill="#111" stroke="#111" stroke-width="0.04">GZMA</text>
<text transform="translate(53.29,305.30) rotate(-90) scale(0.91,1)" font-size="6.6" text-anchor="end" font-style="italic" fill="#111" stroke="#111" stroke-width="0.04">GZMB</text>
<text transform="translate(58.28,305.30) rotate(-90) scale(0.91,1)" font-size="6.6" text-anchor="end" font-style="italic" fill="#111" stroke="#111" stroke-width="0.04">PRF1</text>
<text transform="translate(63.27,305.30) rotate(-90) scale(0.91,1)" font-size="6.6" text-anchor="end" font-style="italic" fill="#111" stroke="#111" stroke-width="0.04">GNLY</text>
<text transform="translate(68.26,305.30) rotate(-90) scale(0.91,1)" font-size="6.6" text-anchor="end" font-style="italic" fill="#111" stroke="#111" stroke-width="0.04">FCGR3A</text>
<text transform="translate(73.25,305.30) rotate(-90) scale(0.91,1)" font-size="6.6" text-anchor="end" font-style="italic" fill="#111" stroke="#111" stroke-width="0.04">KLRC1</text>
<text transform="translate(78.24,305.30) rotate(-90) scale(0.91,1)" font-size="6.6" text-anchor="end" font-style="italic" fill="#111" stroke="#111" stroke-width="0.04">KLRD1</text>
<text transform="translate(83.23,305.30) rotate(-90) scale(0.91,1)" font-size="6.6" text-anchor="end" font-style="italic" fill="#111" stroke="#111" stroke-width="0.04">KIR2DL1</text>
<text transform="translate(88.22,305.30) rotate(-90) scale(0.91,1)" font-size="6.6" text-anchor="end" font-style="italic" fill="#111" stroke="#111" stroke-width="0.04">KIR2DL3</text>
<text transform="translate(93.21,305.30) rotate(-90) scale(0.91,1)" font-size="6.6" text-anchor="end" font-style="italic" fill="#111" stroke="#111" stroke-width="0.04">KIR3DL1</text>
<text transform="translate(98.20,305.30) rotate(-90) scale(0.91,1)" font-size="6.6" text-anchor="end" font-style="italic" fill="#111" stroke="#111" stroke-width="0.04">KIR3DL2</text>
<text transform="translate(103.19,305.30) rotate(-90) scale(0.91,1)" font-size="6.6" text-anchor="end" font-style="italic" fill="#111" stroke="#111" stroke-width="0.04">KIR3DL3</text>
<text transform="translate(108.18,305.30) rotate(-90) scale(0.91,1)" font-size="6.6" text-anchor="end" font-style="italic" fill="#111" stroke="#111" stroke-width="0.04">S100A4</text>
<text transform="translate(113.17,305.30) rotate(-90) scale(0.91,1)" font-size="6.6" text-anchor="end" font-style="italic" fill="#111" stroke="#111" stroke-width="0.04">ACTB</text>
<text transform="translate(118.16,305.30) rotate(-90) scale(0.91,1)" font-size="6.6" text-anchor="end" font-style="italic" fill="#111" stroke="#111" stroke-width="0.04">ARPC3</text>
<text transform="translate(123.15,305.30) rotate(-90) scale(0.91,1)" font-size="6.6" text-anchor="end" font-style="italic" fill="#111" stroke="#111" stroke-width="0.04">ARPC4</text>
<text transform="translate(128.14,305.30) rotate(-90) scale(0.91,1)" font-size="6.6" text-anchor="end" font-style="italic" fill="#111" stroke="#111" stroke-width="0.04">CFL1</text>
<text transform="translate(133.13,305.30) rotate(-90) scale(0.91,1)" font-size="6.6" text-anchor="end" font-style="italic" fill="#111" stroke="#111" stroke-width="0.04">PFN1</text>
<text transform="translate(138.12,305.30) rotate(-90) scale(0.91,1)" font-size="6.6" text-anchor="end" font-style="italic" fill="#111" stroke="#111" stroke-width="0.04">CST7</text>
<rect x="14.15" y="262.5" width="126.35" height="8.9" fill="none" stroke="#d0243a" stroke-width="1.1"/>
<text transform="translate(166.80,221.60) scale(0.98,1)" font-size="6.1" text-anchor="middle" fill="#111" stroke="#111" stroke-width="0.08">average scaled</text>
<text transform="translate(167.00,228.40) scale(0.95,1)" font-size="6.1" text-anchor="middle" fill="#111" stroke="#111" stroke-width="0.08">expression</text>
<defs><linearGradient id="gb" x1="0" y1="0" x2="0" y2="1"><stop offset="0" stop-color="#28309a"/><stop offset="0.35" stop-color="#5a50b0"/><stop offset="0.7" stop-color="#9a90d0"/><stop offset="1" stop-color="#e4e0f2"/></linearGradient></defs>
<rect x="159.50" y="232.20" width="4.60" height="21.60" fill="url(#gb)"/>
<line x1="159.50" y1="234.00" x2="160.60" y2="234.00" stroke="#fff" stroke-width="0.4"/>
<line x1="163.00" y1="234.00" x2="164.10" y2="234.00" stroke="#fff" stroke-width="0.4"/>
<text transform="translate(167.00,235.90)" font-size="5.6" fill="#111" stroke="#111" stroke-width="0.08">2</text>
<line x1="159.50" y1="239.20" x2="160.60" y2="239.20" stroke="#fff" stroke-width="0.4"/>
<line x1="163.00" y1="239.20" x2="164.10" y2="239.20" stroke="#fff" stroke-width="0.4"/>
<text transform="translate(167.00,241.10)" font-size="5.6" fill="#111" stroke="#111" stroke-width="0.08">1</text>
<line x1="159.50" y1="244.30" x2="160.60" y2="244.30" stroke="#fff" stroke-width="0.4"/>
<line x1="163.00" y1="244.30" x2="164.10" y2="244.30" stroke="#fff" stroke-width="0.4"/>
<text transform="translate(167.00,246.20)" font-size="5.6" fill="#111" stroke="#111" stroke-width="0.08">0</text>
<line x1="159.50" y1="249.60" x2="160.60" y2="249.60" stroke="#fff" stroke-width="0.4"/>
<line x1="163.00" y1="249.60" x2="164.10" y2="249.60" stroke="#fff" stroke-width="0.4"/>
<text transform="translate(167.00,251.50)" font-size="5.6" fill="#111" stroke="#111" stroke-width="0.08">−1</text>
<text transform="translate(165.70,264.20)" font-size="6.1" text-anchor="middle" fill="#111" stroke="#111" stroke-width="0.08">% cells</text>
<text transform="translate(166.00,271.10) scale(0.95,1)" font-size="6.1" text-anchor="middle" fill="#111" stroke="#111" stroke-width="0.08">expressing</text>
<circle cx="158.1" cy="277.8" r="0.4" fill="#111"/>
<text transform="translate(164.00,279.90)" font-size="6.1" fill="#111" stroke="#111" stroke-width="0.08">0.00</text>
<circle cx="158.1" cy="286.2" r="0.9" fill="#111"/>
<text transform="translate(164.00,288.30)" font-size="6.1" fill="#111" stroke="#111" stroke-width="0.08">0.25</text>
<circle cx="158.1" cy="294.5" r="1.4" fill="#111"/>
<text transform="translate(164.00,296.60)" font-size="6.1" fill="#111" stroke="#111" stroke-width="0.08">0.50</text>
<circle cx="158.1" cy="302.5" r="2.0" fill="#111"/>
<text transform="translate(164.00,304.60)" font-size="6.1" fill="#111" stroke="#111" stroke-width="0.08">0.75</text>
<circle cx="158.1" cy="311.2" r="2.6" fill="#111"/>
<text transform="translate(164.00,313.30)" font-size="6.1" fill="#111" stroke="#111" stroke-width="0.08">1.00</text>
<rect x="242.00" y="203.85" width="7.4" height="5.63" fill="#2a2a1a"/>
<rect x="250.38" y="203.85" width="7.4" height="5.63" fill="#101010"/>
<rect x="258.76" y="203.85" width="7.4" height="5.63" fill="#d8d030"/>
<rect x="267.14" y="203.85" width="7.4" height="5.63" fill="#3a1a48"/>
<rect x="275.52" y="203.85" width="7.4" height="5.63" fill="#2a1a30"/>
<rect x="283.90" y="203.85" width="7.4" height="5.63" fill="#202018"/>
<rect x="292.28" y="203.85" width="7.4" height="5.63" fill="#282818"/>
<rect x="242.00" y="208.78" width="7.4" height="5.63" fill="#2a2a18"/>
<rect x="250.38" y="208.78" width="7.4" height="5.63" fill="#2a1a35"/>
<rect x="258.76" y="208.78" width="7.4" height="5.63" fill="#909030"/>
<rect x="267.14" y="208.78" width="7.4" height="5.63" fill="#101010"/>
<rect x="275.52" y="208.78" width="7.4" height="5.63" fill="#7a3a9a"/>
<rect x="283.90" y="208.78" width="7.4" height="5.63" fill="#808030"/>
<rect x="292.28" y="208.78" width="7.4" height="5.63" fill="#222218"/>
<rect x="242.00" y="213.71" width="7.4" height="5.63" fill="#505020"/>
<rect x="250.38" y="213.71" width="7.4" height="5.63" fill="#2a2a1a"/>
<rect x="258.76" y="213.71" width="7.4" height="5.63" fill="#3a3a20"/>
<rect x="267.14" y="213.71" width="7.4" height="5.63" fill="#1a1018"/>
<rect x="275.52" y="213.71" width="7.4" height="5.63" fill="#8a4aa8"/>
<rect x="283.90" y="213.71" width="7.4" height="5.63" fill="#909030"/>
<rect x="292.28" y="213.71" width="7.4" height="5.63" fill="#101010"/>
<rect x="242.00" y="218.64" width="7.4" height="4.93" fill="#3a3a20"/>
<rect x="250.38" y="218.64" width="7.4" height="4.93" fill="#2a1a30"/>
<rect x="258.76" y="218.64" width="7.4" height="4.93" fill="#8a8a30"/>
<rect x="267.14" y="218.64" width="7.4" height="4.93" fill="#2a1a30"/>
<rect x="275.52" y="218.64" width="7.4" height="4.93" fill="#8a4aa8"/>
<rect x="283.90" y="218.64" width="7.4" height="4.93" fill="#606020"/>
<rect x="292.28" y="218.64" width="7.4" height="4.93" fill="#3a3a20"/>
<rect x="242.00" y="226.00" width="7.4" height="5.63" fill="#505028"/>
<rect x="250.38" y="226.00" width="7.4" height="5.63" fill="#101012"/>
<rect x="258.76" y="226.00" width="7.4" height="5.63" fill="#8a8a30"/>
<rect x="267.14" y="226.00" width="7.4" height="5.63" fill="#3a2048"/>
<rect x="275.52" y="226.00" width="7.4" height="5.63" fill="#9a50b0"/>
<rect x="283.90" y="226.00" width="7.4" height="5.63" fill="#0a0a0a"/>
<rect x="292.28" y="226.00" width="7.4" height="5.63" fill="#202018"/>
<rect x="242.00" y="230.93" width="7.4" height="5.63" fill="#2a2a1a"/>
<rect x="250.38" y="230.93" width="7.4" height="5.63" fill="#20141f"/>
<rect x="258.76" y="230.93" width="7.4" height="5.63" fill="#3a2050"/>
<rect x="267.14" y="230.93" width="7.4" height="5.63" fill="#101010"/>
<rect x="275.52" y="230.93" width="7.4" height="5.63" fill="#707028"/>
<rect x="283.90" y="230.93" width="7.4" height="5.63" fill="#a0a035"/>
<rect x="292.28" y="230.93" width="7.4" height="5.63" fill="#2a1a30"/>
<rect x="242.00" y="235.86" width="7.4" height="4.93" fill="#2a2a1a"/>
<rect x="250.38" y="235.86" width="7.4" height="4.93" fill="#151015"/>
<rect x="258.76" y="235.86" width="7.4" height="4.93" fill="#6a3090"/>
<rect x="267.14" y="235.86" width="7.4" height="4.93" fill="#3a3a20"/>
<rect x="275.52" y="235.86" width="7.4" height="4.93" fill="#100a10"/>
<rect x="283.90" y="235.86" width="7.4" height="4.93" fill="#d8d030"/>
<rect x="292.28" y="235.86" width="7.4" height="4.93" fill="#2a1a30"/>
<rect x="242.00" y="242.80" width="7.4" height="5.63" fill="#222218"/>
<rect x="250.38" y="242.80" width="7.4" height="5.63" fill="#20141f"/>
<rect x="258.76" y="242.80" width="7.4" height="5.63" fill="#2a2a1a"/>
<rect x="267.14" y="242.80" width="7.4" height="5.63" fill="#3a2048"/>
<rect x="275.52" y="242.80" width="7.4" height="5.63" fill="#2a1a35"/>
<rect x="283.90" y="242.80" width="7.4" height="5.63" fill="#e0d838"/>
<rect x="292.28" y="242.80" width="7.4" height="5.63" fill="#4a2060"/>
<rect x="242.00" y="247.73" width="7.4" height="5.63" fill="#606028"/>
<rect x="250.38" y="247.73" width="7.4" height="5.63" fill="#2a2a1a"/>
<rect x="258.76" y="247.73" width="7.4" height="5.63" fill="#2a2a1a"/>
<rect x="267.14" y="247.73" width="7.4" height="5.63" fill="#4a2060"/>
<rect x="275.52" y="247.73" width="7.4" height="5.63" fill="#6a2a88"/>
<rect x="283.90" y="247.73" width="7.4" height="5.63" fill="#707028"/>
<rect x="292.28" y="247.73" width="7.4" height="5.63" fill="#2a2a1a"/>
<rect x="242.00" y="252.66" width="7.4" height="5.63" fill="#1a1a14"/>
<rect x="250.38" y="252.66" width="7.4" height="5.63" fill="#18121a"/>
<rect x="258.76" y="252.66" width="7.4" height="5.63" fill="#e8e040"/>
<rect x="267.14" y="252.66" width="7.4" height="5.63" fill="#3a2050"/>
<rect x="275.52" y="252.66" width="7.4" height="5.63" fill="#6a2a88"/>
<rect x="283.90" y="252.66" width="7.4" height="5.63" fill="#222218"/>
<rect x="292.28" y="252.66" width="7.4" height="5.63" fill="#0a0a0a"/>
<rect x="242.00" y="257.59" width="7.4" height="5.63" fill="#606028"/>
<rect x="250.38" y="257.59" width="7.4" height="5.63" fill="#2a2a1a"/>
<rect x="258.76" y="257.59" width="7.4" height="5.63" fill="#c8c038"/>
<rect x="267.14" y="257.59" width="7.4" height="5.63" fill="#151515"/>
<rect x="275.52" y="257.59" width="7.4" height="5.63" fill="#4a2060"/>
<rect x="283.90" y="257.59" width="7.4" height="5.63" fill="#2a1a30"/>
<rect x="292.28" y="257.59" width="7.4" height="5.63" fill="#3a1a48"/>
<rect x="242.00" y="262.52" width="7.4" height="4.93" fill="#0a0a0a"/>
<rect x="250.38" y="262.52" width="7.4" height="4.93" fill="#151515"/>
<rect x="258.76" y="262.52" width="7.4" height="4.93" fill="#e8e040"/>
<rect x="267.14" y="262.52" width="7.4" height="4.93" fill="#0a0a0a"/>
<rect x="275.52" y="262.52" width="7.4" height="4.93" fill="#2a1a30"/>
<rect x="283.90" y="262.52" width="7.4" height="4.93" fill="#2a1a30"/>
<rect x="292.28" y="262.52" width="7.4" height="4.93" fill="#4a2060"/>
<rect x="242.00" y="270.50" width="7.4" height="4.93" fill="#0a0a0a"/>
<rect x="250.38" y="270.50" width="7.4" height="4.93" fill="#3a1a48"/>
<rect x="258.76" y="270.50" width="7.4" height="4.93" fill="#e8e040"/>
<rect x="267.14" y="270.50" width="7.4" height="4.93" fill="#3a1a48"/>
<rect x="275.52" y="270.50" width="7.4" height="4.93" fill="#3a1a48"/>
<rect x="283.90" y="270.50" width="7.4" height="4.93" fill="#2a1a30"/>
<rect x="292.28" y="270.50" width="7.4" height="4.93" fill="#151510"/>
<rect x="242.00" y="277.60" width="7.4" height="5.63" fill="#2a1a30"/>
<rect x="250.38" y="277.60" width="7.4" height="5.63" fill="#20141f"/>
<rect x="258.76" y="277.60" width="7.4" height="5.63" fill="#d8d030"/>
<rect x="267.14" y="277.60" width="7.4" height="5.63" fill="#3a2050"/>
<rect x="275.52" y="277.60" width="7.4" height="5.63" fill="#4a2060"/>
<rect x="283.90" y="277.60" width="7.4" height="5.63" fill="#0a0a0a"/>
<rect x="292.28" y="277.60" width="7.4" height="5.63" fill="#3a3a20"/>
<rect x="242.00" y="282.53" width="7.4" height="5.63" fill="#2a2a1a"/>
<rect x="250.38" y="282.53" width="7.4" height="5.63" fill="#1a1418"/>
<rect x="258.76" y="282.53" width="7.4" height="5.63" fill="#a0a030"/>
<rect x="267.14" y="282.53" width="7.4" height="5.63" fill="#1a1a14"/>
<rect x="275.52" y="282.53" width="7.4" height="5.63" fill="#3a3a20"/>
<rect x="283.90" y="282.53" width="7.4" height="5.63" fill="#151515"/>
<rect x="292.28" y="282.53" width="7.4" height="5.63" fill="#9a4ab0"/>
<rect x="242.00" y="287.46" width="7.4" height="5.63" fill="#151510"/>
<rect x="250.38" y="287.46" width="7.4" height="5.63" fill="#2a1a35"/>
<rect x="258.76" y="287.46" width="7.4" height="5.63" fill="#b0b035"/>
<rect x="267.14" y="287.46" width="7.4" height="5.63" fill="#1a1418"/>
<rect x="275.52" y="287.46" width="7.4" height="5.63" fill="#4a2060"/>
<rect x="283.90" y="287.46" width="7.4" height="5.63" fill="#3a1a48"/>
<rect x="292.28" y="287.46" width="7.4" height="5.63" fill="#9a9a30"/>
<rect x="242.00" y="292.39" width="7.4" height="5.63" fill="#20141f"/>
<rect x="250.38" y="292.39" width="7.4" height="5.63" fill="#2a1a35"/>
<rect x="258.76" y="292.39" width="7.4" height="5.63" fill="#e8e040"/>
<rect x="267.14" y="292.39" width="7.4" height="5.63" fill="#1a1418"/>
<rect x="275.52" y="292.39" width="7.4" height="5.63" fill="#3a1a48"/>
<rect x="283.90" y="292.39" width="7.4" height="5.63" fill="#3a1a48"/>
<rect x="292.28" y="292.39" width="7.4" height="5.63" fill="#0a0a0a"/>
<rect x="242.00" y="297.32" width="7.4" height="5.63" fill="#4a4a20"/>
<rect x="250.38" y="297.32" width="7.4" height="5.63" fill="#2a1a35"/>
<rect x="258.76" y="297.32" width="7.4" height="5.63" fill="#e8e040"/>
<rect x="267.14" y="297.32" width="7.4" height="5.63" fill="#6a2a88"/>
<rect x="275.52" y="297.32" width="7.4" height="5.63" fill="#151510"/>
<rect x="283.90" y="297.32" width="7.4" height="5.63" fill="#3a1a48"/>
<rect x="292.28" y="297.32" width="7.4" height="5.63" fill="#20141f"/>
<rect x="242.00" y="302.25" width="7.4" height="4.93" fill="#222218"/>
<rect x="250.38" y="302.25" width="7.4" height="4.93" fill="#1a1a14"/>
<rect x="258.76" y="302.25" width="7.4" height="4.93" fill="#7a7a28"/>
<rect x="267.14" y="302.25" width="7.4" height="4.93" fill="#0a0a0a"/>
<rect x="275.52" y="302.25" width="7.4" height="4.93" fill="#a050c0"/>
<rect x="283.90" y="302.25" width="7.4" height="4.93" fill="#3a3a20"/>
<rect x="292.28" y="302.25" width="7.4" height="4.93" fill="#0a0a0a"/>
<text transform="translate(246.60,314.00) scale(0.9433962264150942,1)" font-size="6.466" text-anchor="middle" fill="#111" stroke="#111" stroke-width="0.08">0</text>
<text transform="translate(254.98,314.00) scale(0.9433962264150942,1)" font-size="6.466" text-anchor="middle" fill="#111" stroke="#111" stroke-width="0.08">1</text>
<text transform="translate(263.36,314.00) scale(0.9433962264150942,1)" font-size="6.466" text-anchor="middle" fill="#111" stroke="#111" stroke-width="0.08">2</text>
<text transform="translate(271.74,314.00) scale(0.9433962264150942,1)" font-size="6.466" text-anchor="middle" fill="#111" stroke="#111" stroke-width="0.08">3</text>
<text transform="translate(280.12,314.00) scale(0.9433962264150942,1)" font-size="6.466" text-anchor="middle" fill="#111" stroke="#111" stroke-width="0.08">4</text>
<text transform="translate(288.50,314.00) scale(0.9433962264150942,1)" font-size="6.466" text-anchor="middle" fill="#111" stroke="#111" stroke-width="0.08">6</text>
<text transform="translate(296.88,314.00) scale(0.9433962264150942,1)" font-size="6.466" text-anchor="middle" fill="#111" stroke="#111" stroke-width="0.08">8</text>
<rect x="258.45" y="201.6" width="8.15" height="114.7" fill="none" stroke="#c8143c" stroke-width="1.1"/>
<path d="M238.5,203.6 H236.5 V223.8 H238.5 M238.5,225.6 H230.4 V240.3 H238.5 M238.5,242.9 H236.5 V268.2 H238.5 M238.5,270.4 H235.6 V275.4 H238.5 M238.5,277.0 H236.3 V307.4 H238.5" fill="none" stroke="#222" stroke-width="0.8"/>
<text transform="translate(223.60,212.60) scale(0.93,1)" font-size="6.4" text-anchor="middle" fill="#111" stroke="#111" stroke-width="0.08">Lytic</text>
<text transform="translate(223.50,220.00) scale(0.93,1)" font-size="6.4" text-anchor="middle" fill="#111" stroke="#111" stroke-width="0.08">Granules</text>
<text transform="translate(216.10,231.80) scale(0.93,1)" font-size="6.4" text-anchor="middle" fill="#111" stroke="#111" stroke-width="0.08">Surface</text>
<text transform="translate(216.30,239.30) scale(0.93,1)" font-size="6.4" text-anchor="middle" fill="#111" stroke="#111" stroke-width="0.08">proteins</text>
<text transform="translate(221.90,254.20) scale(0.93,1)" font-size="6.4" text-anchor="middle" fill="#111" stroke="#111" stroke-width="0.08">Inhibitory</text>
<text transform="translate(222.00,261.90) scale(0.93,1)" font-size="6.4" text-anchor="middle" fill="#111" stroke="#111" stroke-width="0.08">KIR</text>
<text transform="translate(226.10,274.80) scale(0.93,1)" font-size="6.4" text-anchor="middle" fill="#111" stroke="#111" stroke-width="0.08">Other</text>
<text transform="translate(216.50,283.70) scale(0.93,1)" font-size="6.4" text-anchor="middle" fill="#111" stroke="#111" stroke-width="0.08">Cytoskeletal</text>
<text transform="translate(216.80,291.10) scale(0.93,1)" font-size="6.4" text-anchor="middle" fill="#111" stroke="#111" stroke-width="0.08">Remodeling/</text>
<text transform="translate(216.40,298.80) scale(0.93,1)" font-size="6.4" text-anchor="middle" fill="#111" stroke="#111" stroke-width="0.08">Negative</text>
<text transform="translate(216.70,305.70) scale(0.93,1)" font-size="6.4" text-anchor="middle" fill="#111" stroke="#111" stroke-width="0.08">Regulators</text>
<text transform="translate(302.90,208.00)" font-size="6.25" font-style="italic" fill="#111" stroke="#111" stroke-width="0.08">GNLY</text>
<text transform="translate(302.90,212.70)" font-size="6.25" font-style="italic" fill="#111" stroke="#111" stroke-width="0.08">GZMA</text>
<text transform="translate(302.90,217.70)" font-size="6.25" font-style="italic" fill="#111" stroke="#111" stroke-width="0.08">GZMB</text>
<text transform="translate(302.90,222.70)" font-size="6.25" font-style="italic" fill="#111" stroke="#111" stroke-width="0.08">PRF1</text>
<text transform="translate(302.90,230.00)" font-size="6.25" font-style="italic" fill="#111" stroke="#111" stroke-width="0.08">FCGR3A/CD16</text>
<text transform="translate(302.90,234.90)" font-size="6.25" font-style="italic" fill="#111" stroke="#111" stroke-width="0.08">KLRC1/NKG2A</text>
<text transform="translate(302.90,240.00)" font-size="6.25" font-style="italic" fill="#111" stroke="#111" stroke-width="0.08">KLRD1/CD94</text>
<text transform="translate(302.90,246.90)" font-size="6.25" font-style="italic" fill="#111" stroke="#111" stroke-width="0.08">KIR2DL1</text>
<text transform="translate(302.90,251.50)" font-size="6.25" font-style="italic" fill="#111" stroke="#111" stroke-width="0.08">KIR3DL1</text>
<text transform="translate(302.90,256.90)" font-size="6.25" font-style="italic" fill="#111" stroke="#111" stroke-width="0.08">KIR2DL3</text>
<text transform="translate(302.90,261.90)" font-size="6.25" font-style="italic" fill="#111" stroke="#111" stroke-width="0.08">KIR3DL2</text>
<text transform="translate(302.90,266.90)" font-size="6.25" font-style="italic" fill="#111" stroke="#111" stroke-width="0.08">KIR3DL3</text>
<text transform="translate(302.90,275.00)" font-size="6.25" font-style="italic" fill="#111" stroke="#111" stroke-width="0.08">S100A4</text>
<text transform="translate(302.90,281.30)" font-size="6.25" font-style="italic" fill="#111" stroke="#111" stroke-width="0.08">ACTB</text>
<text transform="translate(302.90,286.10)" font-size="6.25" font-style="italic" fill="#111" stroke="#111" stroke-width="0.08">ARPC3</text>
<text transform="translate(302.90,291.30)" font-size="6.25" font-style="italic" fill="#111" stroke="#111" stroke-width="0.08">ARPC4</text>
<text transform="translate(302.90,296.70)" font-size="6.25" font-style="italic" fill="#111" stroke="#111" stroke-width="0.08">CFL1</text>
<text transform="translate(302.90,301.50)" font-size="6.25" font-style="italic" fill="#111" stroke="#111" stroke-width="0.08">PFN1</text>
<text transform="translate(302.90,306.70)" font-size="6.25" font-style="italic" fill="#111" stroke="#111" stroke-width="0.08">CST7</text>
<text transform="translate(370.90,232.10) scale(0.98,1)" font-size="6.2" text-anchor="middle" fill="#111" stroke="#111" stroke-width="0.08">Average scaled</text>
<text transform="translate(370.80,238.30) scale(0.95,1)" font-size="6.2" text-anchor="middle" fill="#111" stroke="#111" stroke-width="0.08">expression</text>
<defs><linearGradient id="gh" x1="0" y1="0" x2="0" y2="1"><stop offset="0" stop-color="#f0ea30"/><stop offset="0.25" stop-color="#8a8a30"/><stop offset="0.5" stop-color="#0c0c0c"/><stop offset="0.75" stop-color="#40205a"/><stop offset="1" stop-color="#8a34aa"/></linearGradient></defs>
<rect x="369.40" y="242.10" width="5.20" height="26.20" fill="url(#gh)"/>
<text transform="translate(378.00,247.10)" font-size="5.6" fill="#111" stroke="#111" stroke-width="0.08">2</text>
<text transform="translate(378.00,252.10)" font-size="5.6" fill="#111" stroke="#111" stroke-width="0.08">1</text>
<text transform="translate(378.00,257.50)" font-size="5.6" fill="#111" stroke="#111" stroke-width="0.08">0</text>
<text transform="translate(378.00,263.10)" font-size="5.6" fill="#111" stroke="#111" stroke-width="0.08">−1</text>
<text transform="translate(378.00,268.80)" font-size="5.6" fill="#111" stroke="#111" stroke-width="0.08">−2</text>
</g>
<rect x="0.5" y="0.5" width="519" height="519" fill="none" stroke="#161616" stroke-width="1.2"/>
</svg></div>
</body></html>
